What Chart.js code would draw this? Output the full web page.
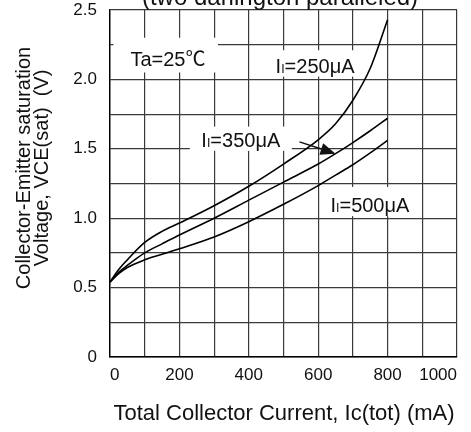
<!DOCTYPE html>
<html>
<head>
<meta charset="utf-8">
<script src="https://cdn.jsdelivr.net/npm/chart.js@4.4.0/dist/chart.umd.min.js"></script>
<style>
  html, body { margin: 0; padding: 0; background: #fff; }
</style>
</head>
<body>
<canvas id="vceChart" width="471" height="432"></canvas>
<script>
// data
const currents = [0, 25, 50, 100, 150, 200, 300, 400, 500, 600, 650, 700, 750, 800];   // mA
const vce250 = [0.54, 0.63, 0.70, 0.825, 0.905, 0.965, 1.09, 1.23, 1.39, 1.565, 1.68, 1.85, 2.08, 2.43];
const vce350 = [0.54, 0.61, 0.66, 0.75, 0.815, 0.879, 1.0, 1.13, 1.26, 1.39, 1.465, 1.545, 1.63, 1.72];
const vce500 = [0.54, 0.60, 0.645, 0.70, 0.74, 0.78, 0.865, 0.975, 1.10, 1.235, 1.31, 1.385, 1.47, 1.56];
const xLabels = [0, 200, 400, 600, 800, 1000];
const yLabels = [0, 0.5, 1.0, 1.5, 2.0, 2.5];

const FONT = '"Liberation Sans", Arial, Helvetica, sans-serif';
const CJK = '"Noto Sans CJK JP", "Liberation Sans", sans-serif';
const GRID = '#3a3a3a';

// text notes inside the plot, placed in data units (box: x0, x1, yTop, yBottom)
// each part: [text, scale, font]
const notes = [
  { parts: [['Ta=25', 1, FONT], ['\u2103', 1, CJK]], at: [167, 2.15], box: [10, 311, 2.30, 2.05] },
  { parts: [['I', 1, FONT], ['I', 0.62, FONT], ['=250\u03bcA', 1, FONT]], at: [591, 2.10], box: [461, 706, 2.21, 2.02] },
  { parts: [['I', 1, FONT], ['I', 0.62, FONT], ['=350\u03bcA', 1, FONT]], at: [377, 1.565], box: [230, 524, 1.66, 1.485] },
  { parts: [['I', 1, FONT], ['I', 0.62, FONT], ['=500\u03bcA', 1, FONT]], at: [749, 1.095], box: [605, 899, 1.225, 1.015] }
];

function toPoints(ys) {
  return currents.map((c, i) => ({ x: c, y: ys[i] }));
}

function drawParts(ctx, parts, cx, cy, size) {
  let w = 0;
  parts.forEach(([t, s, f]) => {
    ctx.font = (size * s) + 'px ' + f;
    w += ctx.measureText(t).width;
  });
  let x = cx - w / 2;
  ctx.textBaseline = 'alphabetic';
  ctx.textAlign = 'left';
  parts.forEach(([t, s, f]) => {
    ctx.font = (size * s) + 'px ' + f;
    ctx.fillText(t, x, cy + size * 0.36);
    x += ctx.measureText(t).width;
  });
}

const sheetText = {
  id: 'sheetText',
  beforeDatasetsDraw(chart) {
    const { ctx, scales: { x, y } } = chart;
    ctx.save();
    ctx.fillStyle = '#fff';
    notes.forEach(n => {
      const l = x.getPixelForValue(n.box[0]), r = x.getPixelForValue(n.box[1]);
      const t = y.getPixelForValue(n.box[2]), b = y.getPixelForValue(n.box[3]);
      ctx.fillRect(l, t, r - l, b - t);
    });
    ctx.restore();
  },
  afterDatasetsDraw(chart) {
    const { ctx, scales: { x, y } } = chart;
    ctx.save();
    ctx.fillStyle = '#111';
    notes.forEach(n => {
      drawParts(ctx, n.parts, x.getPixelForValue(n.at[0]), y.getPixelForValue(n.at[1]), 20);
    });

    // arrow from the 350uA label onto its curve
    const k = currents.indexOf(650);
    const x0 = x.getPixelForValue(546), y0 = y.getPixelForValue(1.55);
    const x1 = x.getPixelForValue(currents[k]), y1 = y.getPixelForValue(vce350[k]);
    const ang = Math.atan2(y1 - y0, x1 - x0);
    const hl = 15, hw = 6;
    const bx = x1 - hl * Math.cos(ang), by = y1 - hl * Math.sin(ang);
    ctx.strokeStyle = '#111';
    ctx.lineWidth = 1.5;
    ctx.beginPath();
    ctx.moveTo(x0, y0);
    ctx.lineTo(bx, by);
    ctx.stroke();
    ctx.beginPath();
    ctx.moveTo(x1, y1);
    ctx.lineTo(bx + hw * Math.sin(ang), by - hw * Math.cos(ang));
    ctx.lineTo(bx - hw * Math.sin(ang), by + hw * Math.cos(ang));
    ctx.closePath();
    ctx.fill();
    ctx.restore();
  },
  afterDraw(chart) {
    const ctx = chart.ctx;
    ctx.save();
    ctx.fillStyle = '#111';
    ctx.textAlign = 'center';
    ctx.textBaseline = 'alphabetic';

    // title, cut off by the top edge like on the sheet
    ctx.font = '24px ' + FONT;
    ctx.fillText('(two darlington paralleled)', 280, 5);

    // x axis title
    ctx.font = '22px ' + FONT;
    ctx.textBaseline = 'middle';
    ctx.fillText('Total Collector Current, Ic(tot) (mA)', 284, 414);

    // y axis title (two lines)
    ctx.font = '20px ' + FONT;
    ctx.translate(0, 168);
    ctx.rotate(-Math.PI / 2);
    ctx.fillText('Collector-Emitter saturation', 0, 24);
    ctx.fillText('Voltage, VCE(sat)  (V)', 0, 42);
    ctx.restore();
  }
};

const lineStyle = {
  borderColor: '#000',
  borderWidth: 1.6,
  pointRadius: 0,
  fill: false,
  cubicInterpolationMode: 'monotone'
};

new Chart(document.getElementById('vceChart'), {
  type: 'line',
  data: {
    datasets: [
      Object.assign({ label: 'II=250uA', data: toPoints(vce250) }, lineStyle),
      Object.assign({ label: 'II=350uA', data: toPoints(vce350) }, lineStyle),
      Object.assign({ label: 'II=500uA', data: toPoints(vce500) }, lineStyle)
    ]
  },
  options: {
    responsive: false,
    animation: false,
    layout: { padding: { top: 10, right: 14, left: 0, bottom: 0 } },
    plugins: { legend: { display: false }, tooltip: { enabled: false } },
    scales: {
      x: {
        type: 'linear',
        min: 0, max: 1000,
        grid: { color: GRID, lineWidth: 1.2, drawTicks: false },
        border: { color: '#000', width: 1.4 },
        ticks: {
          stepSize: 100,
          autoSkip: false,
          maxRotation: 0,
          align: 'inner',
          padding: 8,
          color: '#111',
          font: { family: FONT, size: 17 },
          callback: v => xLabels.includes(v) ? String(v) : ''
        },
        afterFit(s) { s.height = 75; s.paddingLeft = 0; s.paddingRight = 0; }
      },
      y: {
        min: 0, max: 2.5,
        grid: { color: GRID, lineWidth: 1.2, drawTicks: false },
        border: { color: '#000', width: 1.4 },
        ticks: {
          stepSize: 0.25,
          autoSkip: false,
          padding: 13,
          color: '#111',
          font: { family: FONT, size: 17 },
          callback: v => {
            const r = Math.round(v * 4) / 4;
            if (!yLabels.includes(r)) return '';
            return r === 0 ? '0' : r.toFixed(1);
          }
        },
        afterFit(s) { s.width = 110; s.paddingTop = 0; s.paddingBottom = 0; }
      }
    }
  },
  plugins: [sheetText]
});
</script>
</body>
</html>
